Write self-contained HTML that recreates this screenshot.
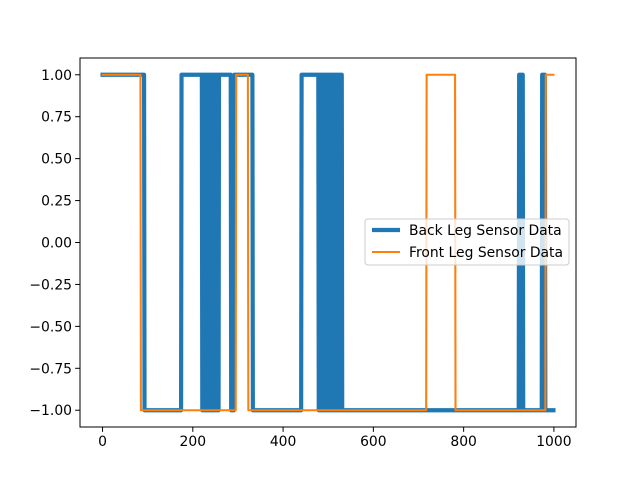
<!DOCTYPE html>
<html><head><meta charset="utf-8">
<style>
html,body{margin:0;padding:0;background:#fff;}
svg{display:block;font-family:"DejaVu Sans","Liberation Sans",sans-serif;}
</style></head>
<body>
<svg id="chart" width="640" height="480" viewBox="0 0 640 480">
  <rect x="0" y="0" width="640" height="480" fill="#fff"/>
  <g id="plot"></g>
  <g id="axes"></g>
  <g id="legend"></g>
</svg>
<script>
// ---- data ----
const xTicks = [0, 200, 400, 600, 800, 1000];
const yTicks = [-1.00, -0.75, -0.50, -0.25, 0.00, 0.25, 0.50, 0.75, 1.00];
const nSteps = 1000;
// Back leg: step transitions (index where value changes) and new values
const backChangeIdx = [0, 93, 175, 285, 292, 333, 441, 530, 981];
const backChangeVal = [1, -1, 1, -1, 1, -1, 1, -1, -1];
// Back leg bursts: ranges where signal toggles every step
const backBurstStart = [220, 478, 923, 974];
const backBurstEnd   = [257, 530, 932, 981];
// Front leg: step transitions
const frontChangeIdx = [0, 85, 296, 323, 718, 782, 982];
const frontChangeVal = [1, -1, 1, -1, 1, -1, 1];

// ---- scales ----
const L = 80, R = 576, T = 58, B = 427;
const xMin = -49.95, xMax = 1048.95, yMin = -1.1, yMax = 1.1;
const xs = v => L + (v - xMin) / (xMax - xMin) * (R - L);
const ys = v => B - (v - yMin) / (yMax - yMin) * (B - T);
const NS = 'http://www.w3.org/2000/svg';
function mk(tag, attrs, parent) {
  const e = document.createElementNS(NS, tag);
  for (const k in attrs) e.setAttribute(k, attrs[k]);
  parent.appendChild(e);
  return e;
}
function buildSeries(idx, val, bStart, bEnd) {
  const s = new Array(nSteps);
  let cur = val[0], j = 0;
  for (let i = 0; i < nSteps; i++) {
    while (j < idx.length && idx[j] <= i) { cur = val[j]; j++; }
    s[i] = cur;
  }
  for (let b = 0; b < bStart.length; b++) {
    for (let i = bStart[b]; i <= bEnd[b]; i++) s[i] = ((i - bStart[b]) % 2 === 0) ? 1 : -1;
  }
  return s;
}
const back = buildSeries(backChangeIdx, backChangeVal, backBurstStart, backBurstEnd);
const front = buildSeries(frontChangeIdx, frontChangeVal, [], []);
function pathOf(s) {
  let d = '';
  for (let i = 0; i < s.length; i++) d += (i ? 'L' : 'M') + xs(i).toFixed(2) + ' ' + ys(s[i]).toFixed(2);
  return d;
}
const plot = document.getElementById('plot');
const bl = mk('path', {d: pathOf(back), fill: 'none', stroke: '#1f77b4', 'stroke-width': 4.17, 'stroke-linejoin': 'round', 'stroke-linecap': 'square'}, plot);


const fl = mk('path', {d: pathOf(front), fill: 'none', stroke: '#ff7f0e', 'stroke-width': 2.08, 'stroke-linejoin': 'round', 'stroke-linecap': 'square'}, plot);



// ---- axes ----
const axes = document.getElementById('axes');
const frame = mk('rect', {x: L, y: T, width: R - L, height: B - T, fill: 'none', stroke: '#000', 'stroke-width': 1}, axes);


xTicks.forEach(v => {
  const x = xs(v);
  const t = mk('line', {x1: x, x2: x, y1: B, y2: B + 4.86, stroke: '#000', 'stroke-width': 1}, axes);
  
  
  const lb = mk('text', {x: x, y: B + 19, 'text-anchor': 'middle', 'font-size': 13.9, fill: '#000'}, axes);
  lb.textContent = String(v);
  
  
});
yTicks.forEach(v => {
  const y = ys(v);
  const t = mk('line', {x1: L - 4.86, x2: L, y1: y, y2: y, stroke: '#000', 'stroke-width': 1}, axes);
  
  
  const lb = mk('text', {x: L - 8, y: y + 5, 'text-anchor': 'end', 'font-size': 13.9, fill: '#000'}, axes);
  lb.textContent = (v < 0 ? '\u2212' : '') + Math.abs(v).toFixed(2);
  
  
});

// ---- legend ----
const lg = document.getElementById('legend');
const box = mk('rect', {x: 365, y: 219, width: 204, height: 46, rx: 3, fill: '#fff', 'fill-opacity': 0.8, stroke: '#ccc', 'stroke-width': 1}, lg);


const entries = [['Back Leg Sensor Data', '#1f77b4', 4.17, 230], ['Front Leg Sensor Data', '#ff7f0e', 2.08, 252]];
entries.forEach(e => {
  const ln = mk('line', {x1: 372, x2: 400, y1: e[3], y2: e[3], stroke: e[1], 'stroke-width': e[2]}, lg);
  
  
  const tx = mk('text', {x: 409, y: e[3] + 5, 'font-size': 13.9, fill: '#000'}, lg);
  tx.textContent = e[0];
  
  
});
</script>
</body></html>
